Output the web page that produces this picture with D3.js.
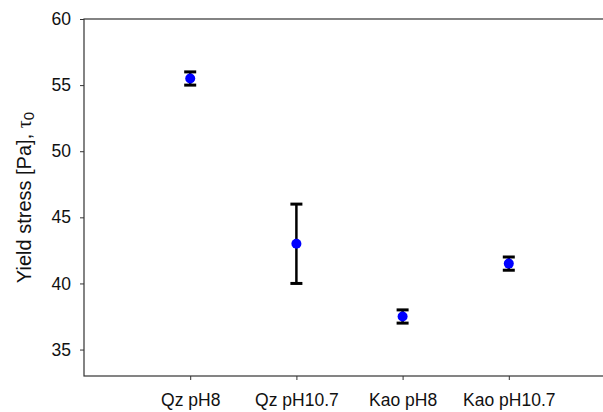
<!DOCTYPE html>
<html>
<head>
<meta charset="utf-8">
<script src="https://cdn.jsdelivr.net/npm/d3@7"></script>
<style>
  body { margin: 0; background: #fff; }
  svg { display: block; font-family: Arial, "Liberation Sans", sans-serif; }
</style>
</head>
<body>
<div id="chart"></div>
<script>
// data
const categories = ["Qz pH8", "Qz pH10.7", "Kao pH8", "Kao pH10.7"]
const means = [55.5, 43, 37.5, 41.5]
const errors = [0.5, 3, 0.5, 0.5]
const yTicks = [35, 40, 45, 50, 55, 60]

const width = 603, height = 412
const plotLeft = 84, plotTop = 19, plotBottom = 376, plotRight = 615

const svg = d3.select("#chart").append("svg")
    .attr("width", width)
    .attr("height", height)

const x = d3.scaleLinear().domain([0, 5]).range([plotLeft, plotRight])
const y = d3.scaleLinear().domain([33, 60]).range([plotBottom, plotTop])

// frame
svg.append("rect")
    .attr("x", plotLeft).attr("y", plotTop)
    .attr("width", plotRight - plotLeft).attr("height", plotBottom - plotTop)
    .attr("fill", "none").attr("stroke", "#333").attr("stroke-width", 1.2)

// y axis
const yAxis = svg.append("g")
    .attr("transform", `translate(${plotLeft},0)`)
    .call(d3.axisLeft(y).tickValues(yTicks).tickSize(4).tickPadding(9).tickSizeOuter(0))
yAxis.select(".domain").remove()
yAxis.selectAll("line").attr("stroke", "#333")
yAxis.selectAll("text").attr("font-size", 17.5).attr("fill", "#111")
    .attr("font-family", "Arial, 'Liberation Sans', sans-serif")

// x axis
const xAxis = svg.append("g")
    .attr("transform", `translate(0,${plotBottom})`)
    .call(d3.axisBottom(x).tickValues([1, 2, 3, 4])
        .tickFormat(d => categories[d - 1]).tickSize(4).tickPadding(14).tickSizeOuter(0))
xAxis.select(".domain").remove()
xAxis.selectAll("line").attr("stroke", "#333")
xAxis.selectAll("text").attr("font-size", 17.5).attr("fill", "#111")
    .attr("font-family", "Arial, 'Liberation Sans', sans-serif")

// y label
const ylab = svg.append("text")
    .attr("transform", `translate(30.5,${(plotTop + plotBottom) / 2}) rotate(-90)`)
    .attr("text-anchor", "middle")
    .attr("font-size", 20).attr("fill", "#111")
ylab.append("tspan").text("Yield stress [Pa], ")
ylab.append("tspan").attr("font-family", "'Times New Roman', 'Liberation Serif', serif").text("τ")
ylab.append("tspan").attr("font-size", 15).attr("dy", 3).text("0")

// error bars
const pts = categories.map((c, i) => ({ i: i + 1, m: means[i], e: errors[i] }))
const g = svg.append("g")
g.selectAll(".bar").data(pts).join("line")
    .attr("x1", d => x(d.i)).attr("x2", d => x(d.i))
    .attr("y1", d => y(d.m + d.e)).attr("y2", d => y(d.m - d.e))
    .attr("stroke", "#000").attr("stroke-width", 2.5)
g.selectAll(".capt").data(pts).join("line")
    .attr("x1", d => x(d.i) - 6).attr("x2", d => x(d.i) + 6)
    .attr("y1", d => y(d.m + d.e)).attr("y2", d => y(d.m + d.e))
    .attr("stroke", "#000").attr("stroke-width", 3)
g.selectAll(".capb").data(pts).join("line")
    .attr("x1", d => x(d.i) - 6).attr("x2", d => x(d.i) + 6)
    .attr("y1", d => y(d.m - d.e)).attr("y2", d => y(d.m - d.e))
    .attr("stroke", "#000").attr("stroke-width", 3)
g.selectAll("circle").data(pts).join("circle")
    .attr("cx", d => x(d.i)).attr("cy", d => y(d.m))
    .attr("r", 5).attr("fill", "#0000ff")
</script>
</body>
</html>
